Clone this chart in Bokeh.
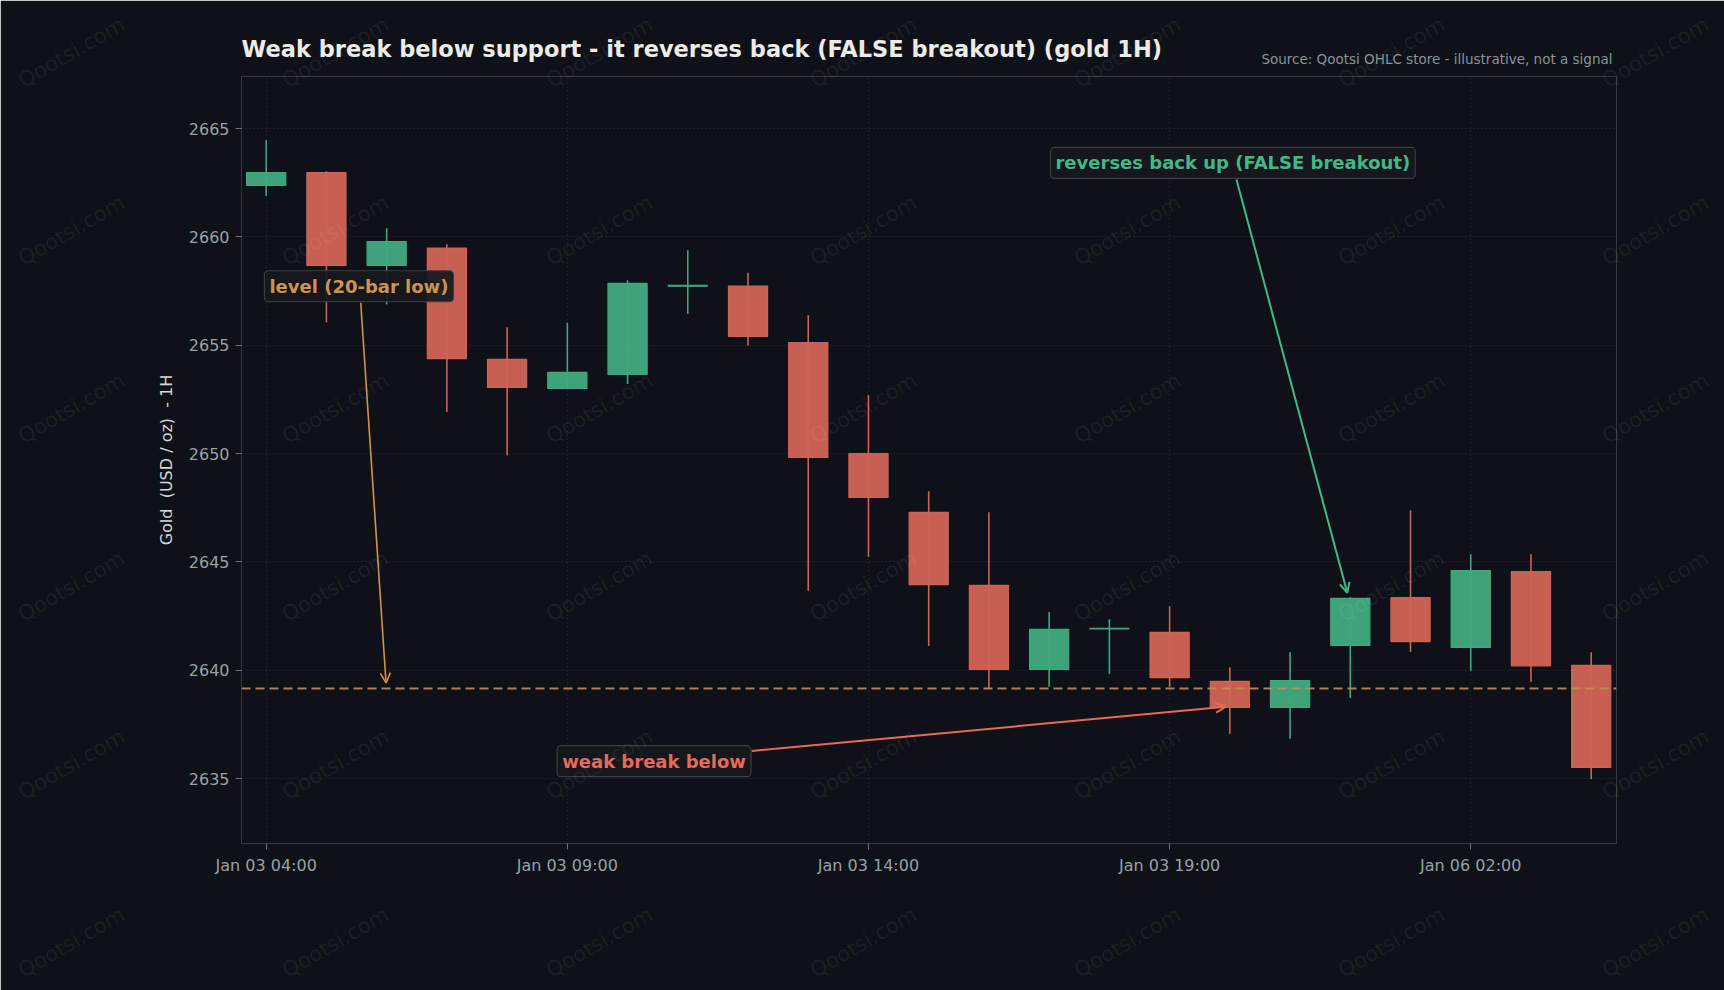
import math
from bokeh.plotting import figure
from bokeh.models import Range1d, FixedTicker, Span, Label, Arrow, OpenHead, ColumnDataSource
from bokeh.core.properties import value
from bokeh.embed import file_html
from bokeh.resources import INLINE

# ---------------- data ----------------
tick_index = [0, 5, 10, 15, 20]
tick_labels = ["Jan 03 04:00", "Jan 03 09:00", "Jan 03 14:00", "Jan 03 19:00", "Jan 06 02:00"]

opens = [2662.37, 2662.97, 2658.68, 2659.48, 2654.34, 2653.00, 2653.65, 2657.72,
         2657.73, 2655.12, 2650.00, 2647.28, 2643.91, 2640.03, 2641.91, 2641.74,
         2639.48, 2638.28, 2641.14, 2643.35, 2641.05, 2644.55, 2640.22]
highs = [2664.46, 2663.03, 2660.40, 2659.66, 2655.83, 2656.03, 2658.00, 2659.38,
         2658.34, 2656.38, 2652.69, 2648.26, 2647.29, 2642.68, 2642.35, 2642.95,
         2640.14, 2640.83, 2643.37, 2647.38, 2645.35, 2645.35, 2640.83]
lows = [2661.88, 2656.05, 2656.88, 2651.92, 2649.92, 2652.98, 2653.21, 2656.44,
        2654.99, 2643.66, 2645.23, 2641.12, 2639.15, 2639.23, 2639.83, 2639.23,
        2637.06, 2636.83, 2638.72, 2640.84, 2639.97, 2639.46, 2634.98]
closes = [2662.97, 2658.68, 2659.78, 2654.38, 2653.05, 2653.74, 2657.85, 2657.76,
          2655.40, 2649.82, 2647.97, 2643.95, 2640.03, 2641.88, 2641.93, 2639.66,
          2638.28, 2639.52, 2643.31, 2641.32, 2644.60, 2640.20, 2635.51]

level = 2639.15  # 20-bar low

# annotation anchors (data coords): (text x, text y, arrow tail x, tail y, head x, head y)
level_note = (1.54, 2657.72, 1.57, 2656.96, 1.99, 2639.41)
reverse_note = (16.05, 2663.41, 16.11, 2662.65, 17.95, 2643.57)
weak_note = (6.44, 2635.80, 8.06, 2636.27, 15.93, 2638.31)

title_text = "Weak break below support - it reverses back (FALSE breakout) (gold 1H)"
source_text = "Source: Qootsi OHLC store - illustrative, not a signal"
y_label = "Gold\u00a0\u00a0(USD / oz)\u00a0\u00a0- 1H"
watermark = "Qootsi.com"

# ---------------- style ----------------
BG = "#0e1117"
GREEN = "#40a77e"
RED = "#cd6355"
GOLD = "#c28d4f"
GRID = "#2c3038"
FRAME = "#34373e"
TICK = "#9aa0a8"

p = figure(width=1724, height=990, output_backend="svg", toolbar_location=None,
           x_range=Range1d(-0.41, 22.42), y_range=Range1d(2632.0, 2667.40),
           min_border_left=241, min_border_right=108, min_border_top=76, min_border_bottom=147,
           background_fill_color=BG, border_fill_color=BG, outline_line_color=FRAME)

idx = list(range(len(opens)))
up = [c >= o for o, c in zip(opens, closes)]
src = ColumnDataSource(dict(
    x=idx, high=highs, low=lows,
    top=[max(o, c) for o, c in zip(opens, closes)],
    bottom=[min(o, c) for o, c in zip(opens, closes)],
    color=[GREEN if u else RED for u in up],
))

# level line
p.add_layout(Span(location=level, dimension="width", line_color=GOLD, line_width=2,
                  line_dash="9 5", line_alpha=0.9))

p.segment(x0="x", y0="low", x1="x", y1="high", source=src, line_color="color", line_width=1.6)
p.vbar(x="x", top="top", bottom="bottom", width=0.65, source=src,
       fill_color="color", fill_alpha=0.97, line_color="color", line_width=1.2)

# axes
p.xaxis.ticker = FixedTicker(ticks=tick_index)
p.xaxis.major_label_overrides = {t: l for t, l in zip(tick_index, tick_labels)}
p.yaxis.ticker = FixedTicker(ticks=[2635, 2640, 2645, 2650, 2655, 2660, 2665])
for ax in (p.xaxis[0], p.yaxis[0]):
    ax.axis_line_color = FRAME
    ax.major_tick_line_color = "#6a6f78"
    ax.major_tick_out = 6
    ax.major_tick_in = 0
    ax.minor_tick_line_color = None
    ax.major_label_text_color = TICK
    ax.major_label_text_font = "DejaVu Sans"
    ax.major_label_text_font_size = "16px"
    ax.major_label_standoff = 6
p.yaxis.axis_label = y_label
p.yaxis.axis_label_text_font = "DejaVu Sans"
p.yaxis.axis_label_text_font_style = "normal"
p.yaxis.axis_label_text_font_size = "16px"
p.yaxis.axis_label_text_color = "#d6d6d6"
p.yaxis.axis_label_standoff = 10

for g in (p.xgrid[0], p.ygrid[0]):
    g.grid_line_color = GRID
    g.grid_line_dash = "1 3"
    g.grid_line_width = 1

# annotations
def note(spec, text, color, width):
    tx, ty, ax0, ay0, ax1, ay1 = spec
    p.add_layout(Arrow(x_start=ax0, y_start=ay0, x_end=ax1, y_end=ay1,
                       line_color=color, line_width=width,
                       end=OpenHead(size=10, line_color=color, line_width=width)))
    p.add_layout(Label(x=tx, y=ty, text=text, text_color=color, text_font="DejaVu Sans",
                       text_font_style="bold", text_font_size="18px",
                       text_align="center", text_baseline="middle",
                       background_fill_color="#16181d", background_fill_alpha=0.92,
                       border_line_color="#3a3d44", border_line_width=1.2,
                       padding=5, border_radius=4))

note(level_note, "level (20-bar low)", "#cf9350", 1.6)
note(reverse_note, "reverses back up (FALSE breakout)", "#42b887", 2.0)
note(weak_note, "weak break below", "#e8685a", 2.0)

# main title
p.title.text = title_text
p.title.align = "left"
p.title.text_color = "#ecebe6"
p.title.text_font = "DejaVu Sans"
p.title.text_font_style = "bold"
p.title.text_font_size = "22.5px"
p.title.standoff = 30

# transparent overlay covering the whole page: watermark tiles + source note
wm_x = [71, 335, 599, 863, 1127, 1391, 1655]
wm_y = [52, 230, 408, 586, 764, 942]
wx = [x for x in wm_x for _ in wm_y]
wy = [y for _ in wm_x for y in wm_y]
wm = figure(width=1724, height=990, output_backend="svg", toolbar_location=None,
            x_range=Range1d(0, 1724), y_range=Range1d(990, 0), min_border=0,
            x_axis_location=None, y_axis_location=None,
            background_fill_alpha=0, border_fill_alpha=0, outline_line_color=None)
wm.grid.visible = False
wm.text(x=wx, y=wy, text=[watermark] * len(wx), angle=math.radians(30),
        text_color="#ffffff", text_alpha=0.065, text_font=value("DejaVu Sans"),
        text_font_size="21px", text_align="center", text_baseline="middle")
wm.text(x=[1612], y=[58], text=[source_text], text_color="#8d929a",
        text_font=value("DejaVu Sans"), text_font_size="13.5px",
        text_align="right", text_baseline="middle")
wm.styles = {"position": "absolute", "top": "0px", "left": "0px", "pointer-events": "none"}

html = file_html([p, wm], INLINE)
html = html.replace("<body>", '<body style="margin:0;background:#0e1117;">', 1)
open("out.html", "w").write(html)
